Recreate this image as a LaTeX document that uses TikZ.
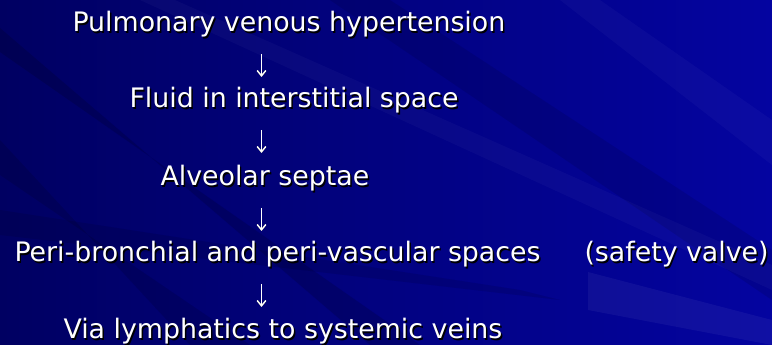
\documentclass[tikz,border=0pt]{standalone}
\usepackage{fontspec}
\setmainfont{DejaVu Sans}
\usetikzlibrary{arrows.meta}
\definecolor{slidedark}{RGB}{0,0,98}
\definecolor{slideblue}{RGB}{4,4,160}

\tikzset{every picture/.style={line width=0.75pt}}
\tikzset{
  slidetext/.style={anchor=base west,inner sep=0pt,text=white,font=\fontsize{20.1}{24}\selectfont},
  slideshadow/.style={slidetext,text=black,xshift=1.1pt,yshift=-1.1pt},
  flowarrow/.style={draw=white,line width=1.1pt,-{Straight Barb[length=4pt,width=6.5pt]}},
  flowshadow/.style={flowarrow,draw=black,xshift=1pt,yshift=-1pt},
  streak/.style={draw opacity=0,fill=#1}
}
% white text with its black drop shadow
\newcommand{\slideline}[3]{%
  \node[slideshadow] at #2 {#3};
  \node[slidetext] (#1) at #2 {#3};}

\begin{document}
\begin{tikzpicture}[x=0.75pt,y=0.75pt,yscale=-1,xscale=1]
\useasboundingbox (0,0) rectangle (772,345);

%Shape: Rectangle [background]
\fill [left color=slidedark, right color=slideblue] (0,0) rectangle (772,345);
%Shape: Streaks
\fill [streak={black},fill opacity=0.15] (0,28) -- (0,52) -- (420,345) -- (370,345) -- cycle ;
\fill [streak={black},fill opacity=0.12] (0,140) -- (0,175) -- (250,345) -- (190,345) -- cycle ;
\fill [streak={black},fill opacity=0.10] (330,0) -- (390,0) -- (772,250) -- (772,300) -- cycle ;
\fill [streak={black},fill opacity=0.10] (0,210) -- (0,235) -- (560,300) -- (520,290) -- cycle ;
\fill [streak={white},fill opacity=0.03] (560,0) -- (600,0) -- (772,120) -- (772,165) -- cycle ;
\fill [streak={white},fill opacity=0.03] (140,0) -- (175,0) -- (772,265) -- (772,290) -- cycle ;
\fill [streak={white},fill opacity=0.05] (588,272) -- (772,320) -- (772,345) -- (588,310) -- cycle ;

% Text Node
\slideline{pvh}{(72,32)}{Pulmonary venous hypertension}
% Text Node
\slideline{fluid}{(129,108)}{Fluid in interstitial space}
% Text Node
\slideline{septae}{(160,186)}{Alveolar septae}
% Text Node
\slideline{peri}{(14,262)}{Peri-bronchial and peri-vascular spaces}
% Text Node
\slideline{valve}{(584,262)}{(safety valve)}
% Text Node
\slideline{lymph}{(63,339)}{Via lymphatics to systemic veins}

% Arrows (start and end points)
\coordinate (arrAtop) at (261.5,54);  \coordinate (arrAend) at (261.5,77);
\coordinate (arrBtop) at (261.5,130); \coordinate (arrBend) at (261.5,153);
\coordinate (arrCtop) at (261.5,208); \coordinate (arrCend) at (261.5,231);
\coordinate (arrDtop) at (261.5,284); \coordinate (arrDend) at (261.5,307);
\foreach \a in {A,B,C,D}{
  \draw [flowshadow] (arr\a top) -- (arr\a end);
  \draw [flowarrow] (arr\a top) -- (arr\a end);
}

\end{tikzpicture}
\end{document}
